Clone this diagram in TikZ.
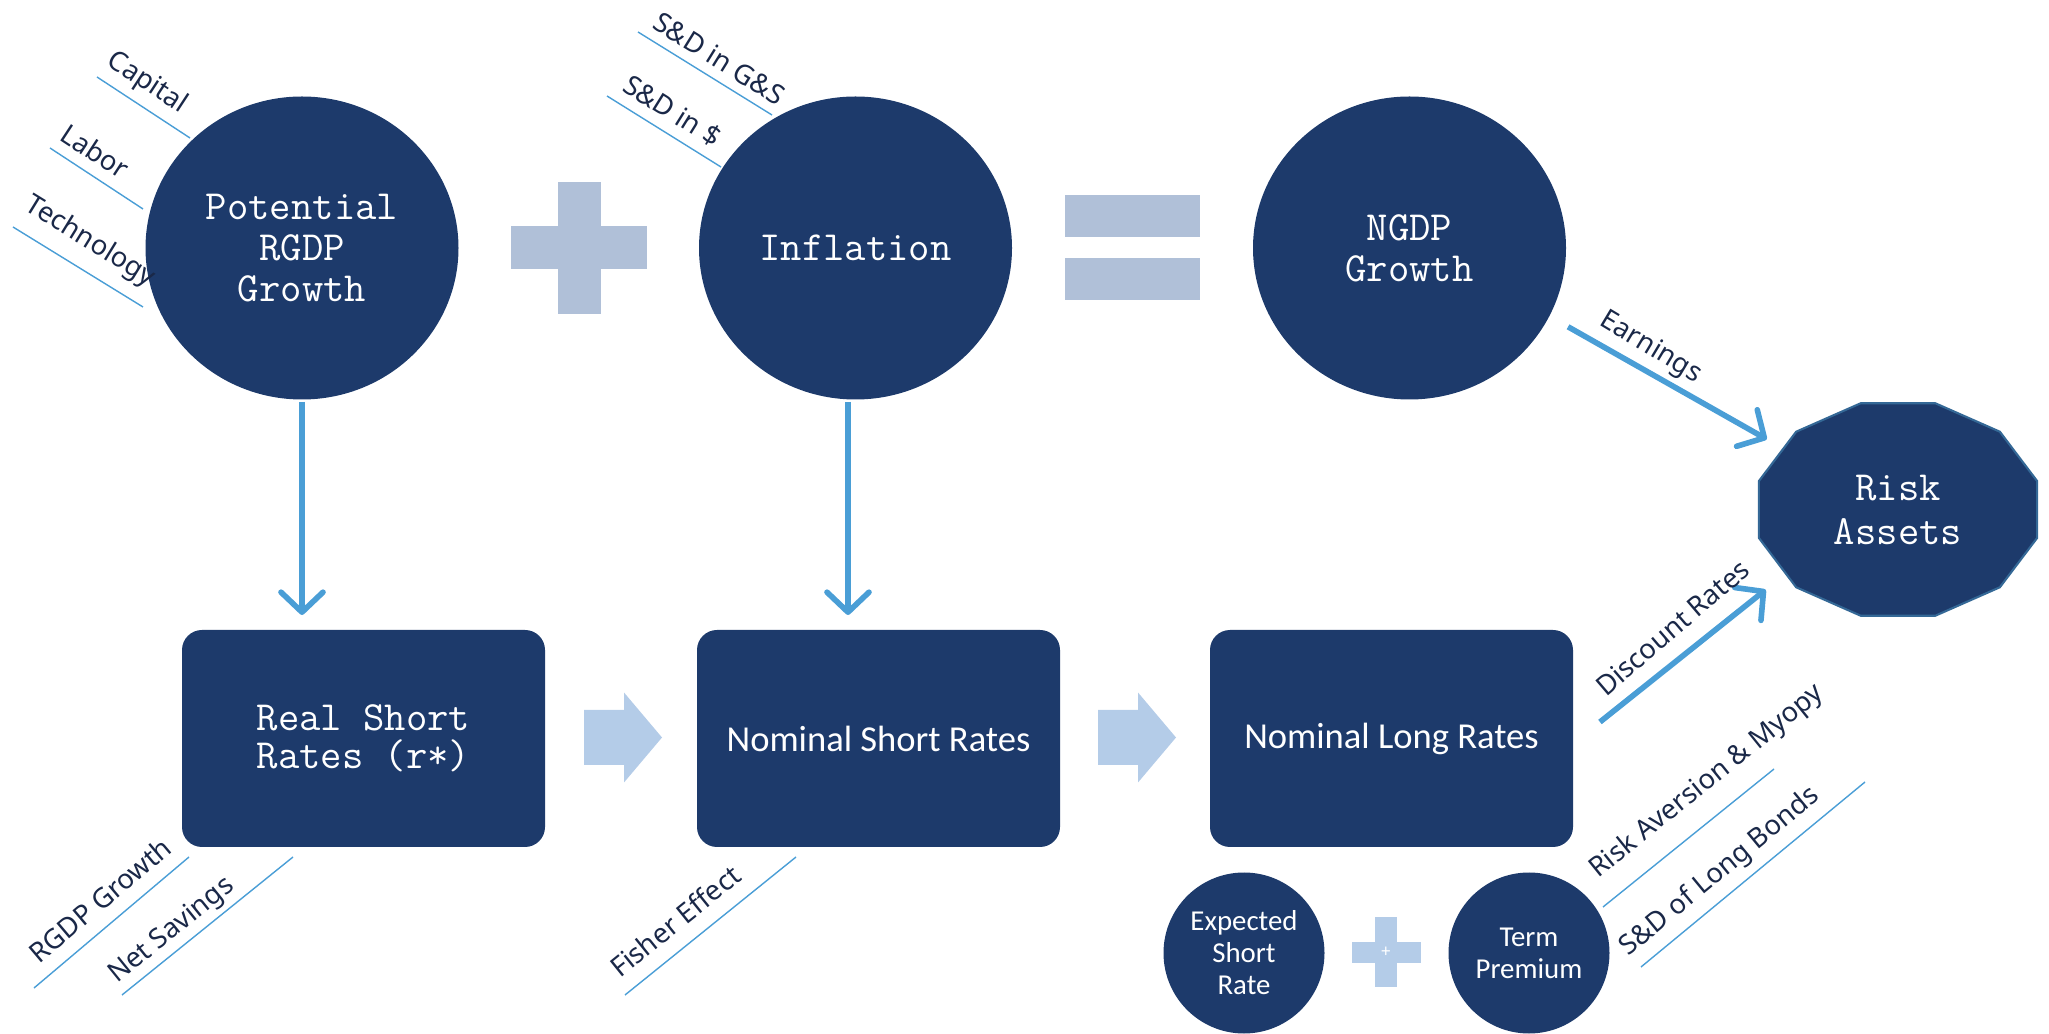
\documentclass[tikz,border=0pt]{standalone}
\usepackage{fontspec}
\setmainfont{Noto Sans}
\newfontfamily\calfont{Carlito}
\usetikzlibrary{arrows.meta}
\usetikzlibrary{shapes.geometric}
\definecolor{mnavy}{RGB}{29,58,107}
\definecolor{mblue}{RGB}{74,158,214}
\definecolor{mpale}{RGB}{180,204,232}
\definecolor{mgrey}{RGB}{176,192,216}
\definecolor{mink}{RGB}{26,40,72}
\definecolor{medge}{RGB}{52,104,150}

\begin{document}
\begin{tikzpicture}[
    bigcirc/.style={ellipse, fill=mnavy, minimum width=3.13cm, minimum height=3.03cm, inner sep=0, outer sep=0, text=white, align=center, font=\ttfamily\fontsize{11.8}{11.6}\selectfont},
    smallcirc/.style={circle, fill=mnavy, minimum size=1.61cm, inner sep=0, outer sep=0, text=white, align=center, font=\calfont\fontsize{8.2}{9.1}\selectfont},
    ratebox/.style={rectangle, rounded corners=0.2cm, fill=mnavy, minimum width=3.63cm, minimum height=2.17cm, outer sep=0, text=white, align=center},
    flow/.style={mblue, line width=1.6pt, -{Straight Barb[length=0.2cm, width=0.42cm, round]}},
    lbl/.style={text=mink, font=\fontsize{7.8}{9}\selectfont, inner sep=0},
    tick/.style={mblue, line width=0.4pt}
  ]
      \useasboundingbox (0, 0) rectangle (20.49, 10.33);

      % top row
      \node [bigcirc] (pot) at (3.02, 7.85) {Potential\\RGDP\\Growth};
      \node [bigcirc] (infl) at (8.555, 7.85) {Inflation};
      \node [bigcirc] (ngdp) at (14.095, 7.85) {NGDP\\Growth};

      \begin{scope}[shift={(5.79, 7.85)}]
        \fill [mgrey] (-0.68, -0.215) rectangle (0.68, 0.215);
        \fill [mgrey] (-0.215, -0.66) rectangle (0.215, 0.66);
      \end{scope}
      \fill [mgrey] (10.65, 7.96) rectangle (12.00, 8.38);
      \fill [mgrey] (10.65, 7.33) rectangle (12.00, 7.75);

      \node [lbl, rotate=-33.3] (capital) at (1.47, 9.50) {Capital};
      \draw [tick] (0.97, 9.56) -- (1.90, 8.95);
      \node [lbl, rotate=-33.3] (labor) at (0.95, 8.82) {Labor};
      \draw [tick] (0.50, 8.85) -- (1.43, 8.24);
      \node [lbl, rotate=-31.6] (tech) at (0.90, 7.91) {Technology};
      \draw [tick] (0.13, 8.06) -- (1.43, 7.26);
      \node [lbl, rotate=-31.8] (sdgs) at (7.195, 9.745) {S\&D in G\&S};
      \draw [tick] (6.38, 10.01) -- (7.72, 9.18);
      \node [lbl, rotate=-31.9] (sdusd) at (6.725, 9.22) {S\&D in \$};
      \draw [tick] (6.07, 9.37) -- (7.21, 8.66);

      % risk assets
      \filldraw [fill=mnavy, draw=medge, line width=0.6pt] plot [samples at={15,45,...,345}] ({18.98+1.44*cos(\x)}, {5.235+1.10*sin(\x)}) -- cycle;
      \node [ellipse, minimum width=2.88cm, minimum height=2.2cm, inner sep=0, outer sep=0, text=white, align=center, font=\ttfamily\fontsize{11.8}{12.5}\selectfont] (risk) at (18.98, 5.235) {Risk\\Assets};

      % bottom row
      \node [ratebox, font=\ttfamily\fontsize{11.8}{10.8}\selectfont] (real) at (3.635, 2.945) {Real Short\\Rates (r*)};
      \node [ratebox, font=\calfont\fontsize{10.4}{12}\selectfont] (nshort) at (8.785, 2.945) {Nominal Short Rates};
      \node [ratebox, font=\calfont\fontsize{10.4}{12}\selectfont] (nlong) at (13.915, 2.945) {Nominal Long Rates};

      \begin{scope}[shift={(5.84, 2.955)}]
        \fill [mpale] (0, -0.275) -- (0.40, -0.275) -- (0.40, -0.45) -- (0.78, 0) -- (0.40, 0.45) -- (0.40, 0.275) -- (0, 0.275) -- cycle;
      \end{scope}
      \begin{scope}[shift={(10.98, 2.955)}]
        \fill [mpale] (0, -0.275) -- (0.40, -0.275) -- (0.40, -0.45) -- (0.78, 0) -- (0.40, 0.45) -- (0.40, 0.275) -- (0, 0.275) -- cycle;
      \end{scope}

      \node [smallcirc] (expshort) at (12.44, 0.80) {Expected\\Short\\Rate};
      \node [smallcirc] (termprem) at (15.29, 0.80) {Term\\Premium};
      \begin{scope}[shift={(13.86, 0.81)}]
        \fill [mpale] (-0.345, -0.105) rectangle (0.345, 0.105);
        \fill [mpale] (-0.11, -0.35) rectangle (0.11, 0.35);
      \end{scope}
      \node [text=white, font=\fontsize{5}{6}\selectfont, inner sep=0] (plusmark) at (13.86, 0.81) {+};

      \node [lbl, rotate=40.2] (rgdp) at (1.00, 1.33) {RGDP Growth};
      \draw [tick] (0.34, 0.45) -- (1.89, 1.76);
      \node [lbl, rotate=38.9] (saving) at (1.72, 1.02) {Net Savings};
      \draw [tick] (1.22, 0.38) -- (2.93, 1.76);
      \node [lbl, rotate=38.9] (fisher) at (6.75, 1.12) {Fisher Effect};
      \draw [tick] (6.25, 0.38) -- (7.96, 1.76);
      \node [lbl, rotate=38.9] (riskav) at (17.07, 2.51) {Risk Aversion \& Myopy};
      \draw [tick] (16.03, 1.26) -- (17.74, 2.64);
      \node [lbl, rotate=39.5] (sdlong) at (17.20, 1.61) {S\&D of Long Bonds};
      \draw [tick] (16.41, 0.66) -- (18.65, 2.51);

      % arrows
      \draw [flow, shorten <=0.025cm, shorten >=0.15cm] (pot.south) -- (pot.south |- real.north);
      \draw [flow, shorten <=0.025cm, shorten >=0.15cm] ([xshift=-0.075cm]infl.south) -- ([xshift=-0.075cm]infl.south |- nshort.north);
      \draw [flow, shorten <=0.216cm, shorten >=0.15cm] (ngdp.-26) -- (risk.152);
      \draw [flow, shorten <=0.345cm, shorten >=0.223cm] ([yshift=-0.05cm]nlong.east) -- (risk.210);
      \node [lbl, rotate=-31] (earn) at (16.505, 6.85) {Earnings};
      \node [lbl, rotate=40.5] (disc) at (16.725, 4.055) {Discount Rates};
    \end{tikzpicture}
\end{document}
